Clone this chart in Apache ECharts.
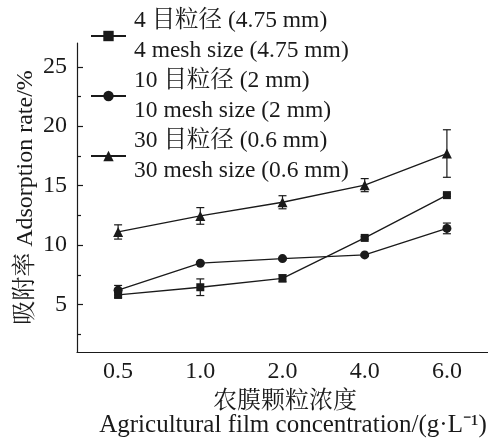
<!DOCTYPE html>
<html><head><meta charset="utf-8">
<script src="https://cdn.jsdelivr.net/npm/echarts@6/dist/echarts.min.js"></script>
<style>html,body{margin:0;padding:0;background:#fff}#c{width:488px;height:438px}</style>
</head><body><div id="c"></div>
<script>
const categories = ['0.5', '1.0', '2.0', '4.0', '6.0'];
const seriesNames = ['4 目粒径 (4.75 mm)\n4 mesh size (4.75 mm)', '10 目粒径 (2 mm)\n10 mesh size (2 mm)', '30 目粒径 (0.6 mm)\n30 mesh size (0.6 mm)'];
const mesh4 = [5.8, 6.45, 7.2, 10.6, 14.2];
const mesh4Err = [0.2, 0.7, 0.3, 0.1, 0.1];
const mesh10 = [6.2, 8.47, 8.86, 9.17, 11.4];
const mesh10Err = [0.4, 0.1, 0.1, 0.1, 0.45];
const mesh30 = [11.1, 12.45, 13.6, 15.04, 17.7];
const mesh30Err = [0.6, 0.7, 0.55, 0.55, 2.0];
const yMajor = [5, 10, 15, 20, 25];
const yMinor = [2.5, 7.5, 12.5, 17.5, 22.5];

const FONT = '"Liberation Serif", "Times New Roman", "Noto Serif CJK SC", "Noto Sans CJK SC", serif';
const INK = '#1a1a1a';
const FS = 24;

function errSeries(vals, errs) {
  return {
    type: 'custom', xAxisIndex: 0, yAxisIndex: 0, silent: true, z: 1,
    data: vals.map((v, i) => [i, v, errs[i]]),
    renderItem: function (params, api) {
      const x = api.value(0), v = api.value(1), e = api.value(2);
      const top = api.coord([x, v + e]);
      const bot = api.coord([x, v - e]);
      const w = 4;
      return {
        type: 'group',
        children: [
          { type: 'line', shape: { x1: top[0], y1: top[1], x2: bot[0], y2: bot[1] }, style: { stroke: INK, lineWidth: 1.2 } },
          { type: 'line', shape: { x1: top[0] - w, y1: top[1], x2: top[0] + w, y2: top[1] }, style: { stroke: INK, lineWidth: 1.2 } },
          { type: 'line', shape: { x1: bot[0] - w, y1: bot[1], x2: bot[0] + w, y2: bot[1] }, style: { stroke: INK, lineWidth: 1.2 } }
        ]
      };
    }
  };
}

function lineSeries(name, vals, symbol, size) {
  return {
    type: 'line', name: name, data: vals, xAxisIndex: 0, yAxisIndex: 0,
    symbol: symbol, symbolSize: size, z: 3,
    lineStyle: { color: INK, width: 1.3 },
    itemStyle: { color: INK, borderWidth: 0 }
  };
}

const chart = echarts.init(document.getElementById('c'), null, { renderer: 'canvas' });
chart.setOption({
  animation: false,
  backgroundColor: '#fff',
  textStyle: { fontFamily: FONT, color: INK },
  grid: { left: 77, right: -6, top: 43, bottom: 86, containLabel: false },
  legend: {
    orient: 'vertical', left: 90, top: 6, padding: 0, itemGap: 0, itemWidth: 35, itemHeight: 13,
    data: seriesNames,
    textStyle: { fontFamily: FONT, fontSize: 23.5, color: INK, lineHeight: 30, padding: [0, 0, 0, 3] },
    selectedMode: false
  },
  xAxis: [
    {
      type: 'category', data: categories, boundaryGap: true,
      axisLine: { lineStyle: { color: INK, width: 1.2 } },
      axisTick: { inside: true, alignWithLabel: true, length: 7, lineStyle: { color: INK, width: 1.2 } },
      axisLabel: { fontFamily: FONT, fontSize: FS, color: INK, margin: 8 },
      splitLine: { show: false }
    },
    {
      type: 'category', data: categories, boundaryGap: true, position: 'bottom',
      axisLine: { show: false },
      axisTick: { inside: true, alignWithLabel: false, length: 4, lineStyle: { color: INK, width: 1.2 } },
      axisLabel: { show: false },
      splitLine: { show: false }
    }
  ],
  yAxis: [
    {
      type: 'value', min: 1, max: 27,
      axisLine: { show: true, lineStyle: { color: INK, width: 1.2 } },
      axisTick: { show: true, inside: true, length: 6, customValues: yMajor, lineStyle: { color: INK, width: 1.2 } },
      axisLabel: { fontFamily: FONT, fontSize: FS, color: INK, margin: 10, customValues: yMajor },
      splitLine: { show: false }
    },
    {
      type: 'value', min: 1, max: 27, position: 'left',
      axisLine: { show: false },
      axisTick: { show: true, inside: true, length: 4, customValues: yMinor, lineStyle: { color: INK, width: 1.2 } },
      axisLabel: { show: false, customValues: yMinor },
      splitLine: { show: false }
    }
  ],
  graphic: [
    {
      type: 'text', x: 26, y: 197.5, rotation: Math.PI / 2,
      style: { text: '吸附率 Adsorption rate/%', font: FS + 'px ' + FONT, fill: INK, align: 'center', verticalAlign: 'middle' }
    },
    {
      type: 'text', x: 285, y: 402,
      style: { text: '农膜颗粒浓度', font: FS + 'px ' + FONT, fill: INK, align: 'center', verticalAlign: 'middle' }
    },
    {
      type: 'text', x: 293, y: 425,
      style: { text: 'Agricultural film concentration/(g·L⁻¹)', font: '25px ' + FONT, fill: INK, align: 'center', verticalAlign: 'middle' }
    }
  ],
  series: [
    errSeries(mesh4, mesh4Err),
    errSeries(mesh10, mesh10Err),
    errSeries(mesh30, mesh30Err),
    lineSeries(seriesNames[0], mesh4, 'rect', 8),
    lineSeries(seriesNames[1], mesh10, 'circle', 9),
    lineSeries(seriesNames[2], mesh30, 'triangle', 10)
  ]
});
</script></body></html>
